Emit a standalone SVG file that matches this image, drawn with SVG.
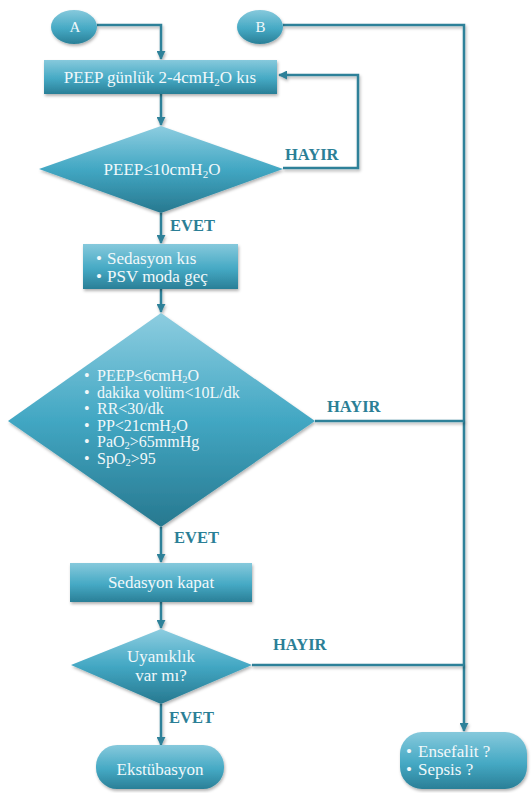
<svg xmlns="http://www.w3.org/2000/svg" width="532" height="793" viewBox="0 0 532 793">
<defs>
<linearGradient id="g" x1="0" y1="0" x2="0" y2="1">
<stop offset="0" stop-color="#8dcde0"/>
<stop offset="0.5" stop-color="#42a7c3"/>
<stop offset="1" stop-color="#27788f"/>
</linearGradient>
<linearGradient id="gb" x1="0" y1="0" x2="0" y2="1">
<stop offset="0" stop-color="#86c9dc"/>
<stop offset="0.55" stop-color="#45a9c4"/>
<stop offset="1" stop-color="#2a7f97"/>
</linearGradient>
<filter id="sh" filterUnits="userSpaceOnUse" x="0" y="0" width="532" height="793">
<feDropShadow dx="1" dy="2" stdDeviation="1.5" flood-color="#000" flood-opacity="0.3"/>
</filter>
<marker id="ar" viewBox="0 0 10 10" refX="9" refY="5" markerWidth="9" markerHeight="9" markerUnits="userSpaceOnUse" orient="auto">
<path d="M0,0 L10,5 L0,10 z" fill="#2e8199"/>
</marker>
</defs>
<style>
.shape{fill:url(#gb);filter:url(#sh)}
.dia{fill:url(#g);filter:url(#sh)}
text{font-family:"Liberation Serif","Times New Roman",serif}
.t{font-size:17px;fill:#f1f8fa}
.tl{font-size:16px;fill:#f1f8fa}
.lab{font-size:16.5px;font-weight:bold;fill:#2b7f96}
.c{fill:none;stroke:#2e8199;stroke-width:2.5;filter:url(#sh)}
</style>

<g id="connectors">
<path class="c" d="M97,25 H161 V59" marker-end="url(#ar)"/>
<path class="c" d="M283,25 H464 V731" marker-end="url(#ar)"/>
<path class="c" d="M161,94 V125" marker-end="url(#ar)"/>
<path class="c" d="M283,168 H358 V75 H279" marker-end="url(#ar)"/>
<path class="c" d="M161,213 V243" marker-end="url(#ar)"/>
<path class="c" d="M161,289 V312" marker-end="url(#ar)"/>
<path class="c" d="M315,421 H464"/>
<path class="c" d="M161,527 V562" marker-end="url(#ar)"/>
<path class="c" d="M161,602 V628" marker-end="url(#ar)"/>
<path class="c" d="M252,665 H464"/>
<path class="c" d="M161,704 V745" marker-end="url(#ar)"/>
<text class="lab" font-family="Liberation Serif, serif" x="285" y="160">HAYIR</text>
<text class="lab" font-family="Liberation Serif, serif" x="170" y="231">EVET</text>
<text class="lab" font-family="Liberation Serif, serif" x="327" y="412">HAYIR</text>
<text class="lab" font-family="Liberation Serif, serif" x="174" y="543">EVET</text>
<text class="lab" font-family="Liberation Serif, serif" x="273" y="650">HAYIR</text>
<text class="lab" font-family="Liberation Serif, serif" x="169" y="723">EVET</text>
</g>

<g id="A">
<ellipse class="shape" cx="74" cy="27" rx="23" ry="17"/>
<text class="t" x="75" y="32" text-anchor="middle" style="font-size:15px">A</text>
</g>
<g id="B">
<ellipse class="shape" cx="260" cy="27" rx="23" ry="17"/>
<text class="t" x="260.5" y="32" text-anchor="middle" style="font-size:15px">B</text>
</g>

<g id="peep-kis">
<rect class="shape" x="44" y="60" width="233" height="34"/>
<text class="t" x="160" y="83" text-anchor="middle">PEEP günlük 2-4cmH<tspan font-size="11" dy="2.5">2</tspan><tspan dy="-2.5">O kıs</tspan></text>
</g>

<g id="peep10">
<polygon class="dia" points="161,126 283,169 161,213 39,169"/>
<text class="t" x="162" y="175" text-anchor="middle">PEEP≤10cmH<tspan font-size="11" dy="2.5">2</tspan><tspan dy="-2.5">O</tspan></text>
</g>

<g id="sedasyon-psv">
<rect class="shape" x="83" y="244" width="155" height="45"/>
<text class="t" y="264"><tspan x="96">•</tspan><tspan x="107">Sedasyon kıs</tspan></text>
<text class="t" y="282"><tspan x="96">•</tspan><tspan x="107">PSV moda geç</tspan></text>
</g>

<g id="kriterler">
<polygon class="dia" points="161,313 315,421 161,527 8,421"/>
<text class="tl" y="381"><tspan x="84">•</tspan><tspan x="97">PEEP≤6cmH</tspan><tspan font-size="10.5" dy="2">2</tspan><tspan dy="-2">O</tspan></text>
<text class="tl" y="397.6"><tspan x="84">•</tspan><tspan x="97">dakika volüm&lt;10L/dk</tspan></text>
<text class="tl" y="414.2"><tspan x="84">•</tspan><tspan x="97">RR&lt;30/dk</tspan></text>
<text class="tl" y="430.8"><tspan x="84">•</tspan><tspan x="97">PP&lt;21cmH</tspan><tspan font-size="10.5" dy="2">2</tspan><tspan dy="-2">O</tspan></text>
<text class="tl" y="447.4"><tspan x="84">•</tspan><tspan x="97">PaO</tspan><tspan font-size="10.5" dy="2">2</tspan><tspan dy="-2">&gt;65mmHg</tspan></text>
<text class="tl" y="464"><tspan x="84">•</tspan><tspan x="97">SpO</tspan><tspan font-size="10.5" dy="2">2</tspan><tspan dy="-2">&gt;95</tspan></text>
</g>

<g id="sedasyon-kapat">
<rect class="shape" x="70" y="563" width="182" height="39"/>
<text class="t" x="161" y="588" text-anchor="middle">Sedasyon kapat</text>
</g>

<g id="uyaniklik">
<polygon class="dia" points="161,629 252,665 161,704 71,665"/>
<text class="t" x="161" y="662" text-anchor="middle">Uyanıklık</text>
<text class="t" x="161" y="681" text-anchor="middle">var mı?</text>
</g>

<g id="ekstubasyon">
<rect class="shape" x="96" y="745" width="128" height="44" rx="21" ry="21"/>
<text class="t" x="160" y="775" text-anchor="middle">Ekstübasyon</text>
</g>

<g id="ensefalit-sepsis">
<rect class="shape" x="400" y="732" width="127" height="57" rx="22" ry="22"/>
<text class="t" y="757"><tspan x="406">•</tspan><tspan x="418">Ensefalit ?</tspan></text>
<text class="t" y="775"><tspan x="406">•</tspan><tspan x="418">Sepsis ?</tspan></text>
</g>
</svg>
